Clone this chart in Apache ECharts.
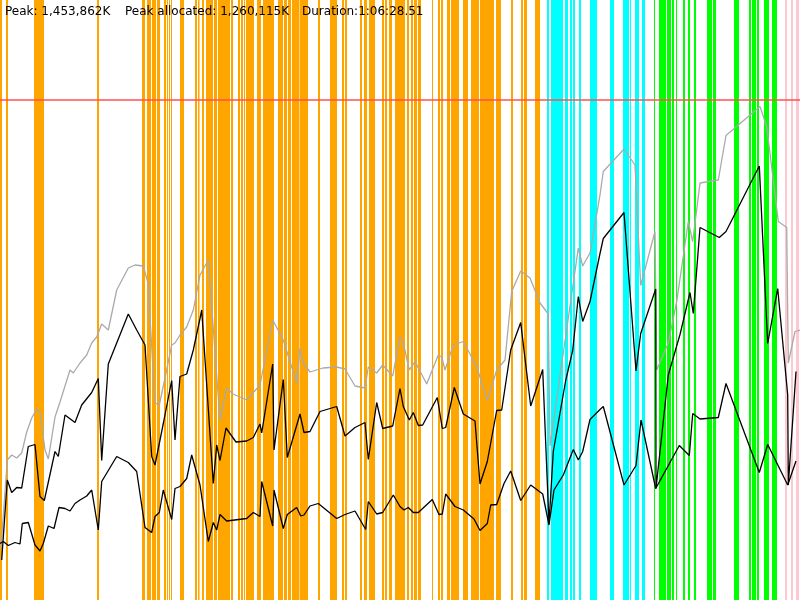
<!DOCTYPE html>
<html>
<head>
<meta charset="utf-8">
<script src="https://cdn.jsdelivr.net/npm/echarts@6/dist/echarts.min.js"></script>
<style>
  html, body { margin: 0; padding: 0; background: #fff; }
  #chart { width: 800px; height: 600px; }
</style>
</head>
<body>
<div id="chart"></div>
<script>
// time axis: 0..800 = whole run (1:06:28.51), memory axis: % of peak heap (1,453,862K)
var headerTexts = ['Peak: 1,453,862K', 'Peak allocated: 1,260,115K', 'Duration:1:06:28.51'];
var peakLevel = 100;

// GC event spans [start, end]
var orangeEvents = [[0,2],[6,8],[34,44],[97,99],[142,145],[147,151],[152,156],[157,160],[164,166],
  [167,168],[169,170],[171,172],[180,184],[195,197],[198,199.5],[202,204],[206,213],[214,217],
  [218,230],[231,233],[238,240],[241,243],[244,245],[246,254],[257,261],[263,274],[278,283],
  [284,287],[288,291],[292,299],[299.5,308],[318,320],[330,337],[342,344],[345,347],[360,362],
  [364,367],[369,375],[382,384],[385,387],[389,392],[395,405],[407,409],[411,413],[414,417],
  [418,421],[432,433],[438,440],[441,443],[447,450],[451,454],[454,459],[463,468],[471,479],
  [480,494],[496,501],[511,513],[521,523],[524,527],[535,540]];
var cyanEvents = [[547,549],[551,563],[565,568],[570,572],[573,575],[579,581],[590,597],
  [610,614],[623,629],[630,631],[635,639],[642,645]];
var greenEvents = [[654,655],[659,666],[667,671],[672,674],[676,677],[683,685],[688,690],
  [694,696],[707,712],[713,716],[734,739],[749,751],[752,756],[757,759],[764,769],[772,777]];
var pinkEvents = [[785,787],[791,793],[796,799]];

// heap size (grey)
var heapSize = [[1,10.4],[7.3,28],[11.7,29],[16.7,28.4],[21.7,29.4],[26.7,33.6],[31.7,36.4],
  [36.7,38.2],[40,37.6],[45,30],[48.3,28.2],[55,36.6],[60,39.6],[65,42.8],[70,46],[73.3,45.4],
  [80,47.4],[86.7,49],[91.7,51.4],[96.7,52.6],[101.7,55.2],[108.3,54],[116.7,62],[128.3,66.4],
  [135,67],[143.3,66.8],[148,63.4],[155,39.4],[159.3,39],[165,44.4],[171.7,51],[175,51.4],
  [180,53],[186.7,54.6],[193.3,58],[200,65],[208.3,68],[220,36],[226.7,42.4],[233,41.2],
  [246.7,40],[260,43],[272.7,56],[283.3,52],[296.7,43.4],[300,50.4],[303,47.4],[310,45.6],
  [323,46.4],[336.7,46.6],[345,46.2],[355,42.8],[365,42.4],[368.3,46.6],[376.7,45.4],[382.7,47],
  [392.7,44.8],[400,52.6],[403.3,51.4],[409.3,46],[415,47.7],[426.7,43.2],[438.3,49],[441.7,48.6],
  [445,46],[453.3,51],[463.3,51.7],[476.7,46.7],[487.3,39.9],[496.7,46],[505,48],[511.7,61.7],
  [520.7,65.8],[530,64.4],[540,59.4],[548.3,57.2],[550,30.8],[578.3,70.4],[582.7,66.8],[590,69.4],
  [600,81],[603.3,85.7],[624,90.2],[635,87],[640.7,62.9],[655,73.7],[656.7,46],[668.3,51.4],
  [676.7,59.7],[688.3,75.7],[692.7,71.7],[700,83.4],[718.3,84],[726,92.9],[760,98.7],[766.7,94.7],
  [778.3,75.7],[786.7,74.5],[788.3,47.4],[795,53.7],[800,54]];

// used before GC (upper black)
var usedBefore = [[1.7,8],[7.3,24],[11.7,21.5],[16.7,22.5],[21.7,22.4],[28.3,30.7],[35,31.1],
  [40,20.7],[44.3,19.9],[55,29.7],[58.3,28.7],[65,37],[75,35.5],[81.7,39],[91.7,41.5],[98.3,44.3],
  [101.7,27.9],[108.3,47.2],[128.3,57.2],[136.7,54],[145,51],[151.7,28.7],[155,27],[163.3,35.3],
  [171.7,43.9],[175,32],[180,44.7],[186.7,45.2],[193.3,50],[200,56.3],[201.7,58],[213.3,23.3],
  [216.7,31],[220,27.9],[226,34.4],[236,31.6],[246.7,31.8],[253.3,32.5],[260,35.2],[261.7,33.4],
  [272.7,47.2],[274,30],[283.3,44.1],[287.3,28.5],[300,37.2],[304,33.5],[310,33.7],[320,37.7],
  [336.7,38.7],[345,32.8],[355,34.5],[365,35.5],[368.3,28.1],[376.7,39.5],[382.7,34.3],[392.7,34.8],
  [400,42.3],[403.3,38.7],[409.3,36],[413.3,37.5],[418.3,34.9],[422.7,35],[437.3,40.5],[442.3,34.3],
  [445.7,34.5],[454.3,42.5],[463.3,37.2],[475,35.8],[480,23.2],[487.3,27.7],[496.7,37.9],[501.7,38],
  [510.7,50],[520.7,55.5],[530.7,38.8],[542.7,46.1],[549,15.3],[553.3,29.7],[565.7,43.9],
  [572.7,49.9],[578.3,60.7],[582.7,55.7],[590,59.7],[600,69.3],[603.3,72.3],[624,77.5],[636,45.8],
  [640.7,53.3],[655.7,62.2],[656,22.3],[668.3,45],[680,53.1],[690,61.5],[693.3,57.3],[700,74.5],
  [719.3,72.5],[726,73.7],[759.3,86.8],[767.7,51.3],[777.7,62.3],[787.7,41],[788.3,23],[796,45.7]];

// used after GC (lower black)
var usedAfter = [[0,11.3],[3.3,11.7],[8.3,10.9],[15,11.5],[20,11.2],[22.3,15.3],[28.3,15.5],
  [35,11],[40,9.8],[43.3,11.3],[48.3,14.8],[54,14.3],[59,18.5],[65,18.3],[70,17.8],[75,19.3],
  [80,20],[86.7,20.8],[91.7,22],[98.3,14],[101.7,23.7],[116.7,28.7],[128.3,27.5],[136.7,25.7],
  [145,14.5],[151.7,13.5],[155,16.7],[159.3,17.5],[163.3,22],[171.7,16.1],[175,22.3],[180,22.7],
  [186.7,24.3],[191.7,29],[200,23],[208.3,11.7],[213.3,15.5],[216.7,14],[220,17.1],[226.7,15.8],
  [246.7,16.3],[253.3,17.5],[260,16.7],[261.7,23.7],[272.7,14.8],[274,22],[283.3,14.3],[287.3,17.1],
  [296.7,18.5],[300.7,16.8],[304,17],[310,18.8],[318.3,19.3],[336.7,16.3],[345,17.1],[355,17.8],
  [365.7,14.1],[368.3,19.7],[376.7,17.2],[382.7,17.5],[393.3,21],[400,18.7],[404,18],[408.3,18.5],
  [413.3,17.5],[418.3,17.5],[432.3,20.1],[439,17.1],[442.3,17.2],[445.7,21.2],[455,18.7],[463.3,18],
  [474,16.2],[480,13.9],[487.3,15.3],[490.7,19],[496.7,19.1],[504,23.3],[510.7,25.8],[520.7,19.9],
  [530.7,23],[542.7,21.2],[549,15],[554,22],[563.3,25],[573.3,30.1],[578.3,28],[582.7,29.7],
  [590,36.1],[600,38.1],[603.3,38.7],[624,23],[636,26.9],[641,36],[655.7,22.3],[679.3,30.9],
  [689.3,28.9],[692.7,37.3],[700,36.2],[718.3,36.5],[726,43.3],[759.3,25.5],[767.7,31.1],
  [787.7,23],[796,27.8]];

var chart = echarts.init(document.getElementById('chart'));

function spanSeries(data, color) {
    return {
        type: 'custom',
        silent: true,
        z: 1,
        data: data,
        encode: { x: [0, 1] },
        renderItem: function(params, api) {
            var s = api.coord([api.value(0), 120]);
            var e = api.coord([api.value(1), 0]);
            return {
                type: 'rect',
                shape: { x: s[0], y: s[1], width: Math.max(e[0] - s[0], 1), height: e[1] - s[1] },
                style: { fill: color }
            };
        }
    };
}

function lineSeries(data, color, width) {
    return {
        type: 'line',
        data: data,
        z: 3,
        symbol: 'none',
        silent: true,
        lineStyle: { color: color, width: width }
    };
}

var heapLine = lineSeries(heapSize, '#aaaaaa', 1.3);
heapLine.markLine = {
    silent: true,
    symbol: 'none',
    label: { show: false },
    lineStyle: { color: '#ff5050', width: 1.5, type: 'solid' },
    data: [{ yAxis: peakLevel }]
};

var textX = [5, 125, 302];
var header = headerTexts.map(function(t, i) {
    return {
        type: 'text',
        left: textX[i],
        top: 6,
        z: 10,
        style: { text: t, fill: '#000', font: '12px "DejaVu Sans"' }
    };
});

chart.setOption({
    animation: false,
    backgroundColor: '#fff',
    graphic: header,
    grid: { left: 0, right: 0, top: 0, bottom: 0 },
    xAxis: { type: 'value', min: 0, max: 800, show: false },
    yAxis: { type: 'value', min: 0, max: 120, show: false },
    series: [
        spanSeries(orangeEvents, '#ffa500'),
        spanSeries(cyanEvents, '#00ffff'),
        spanSeries(greenEvents, '#00ff00'),
        spanSeries(pinkEvents, '#ffc8d0'),
        heapLine,
        lineSeries(usedBefore, '#000', 1.3),
        lineSeries(usedAfter, '#000', 1.3)
    ]
});
</script>
</body>
</html>
